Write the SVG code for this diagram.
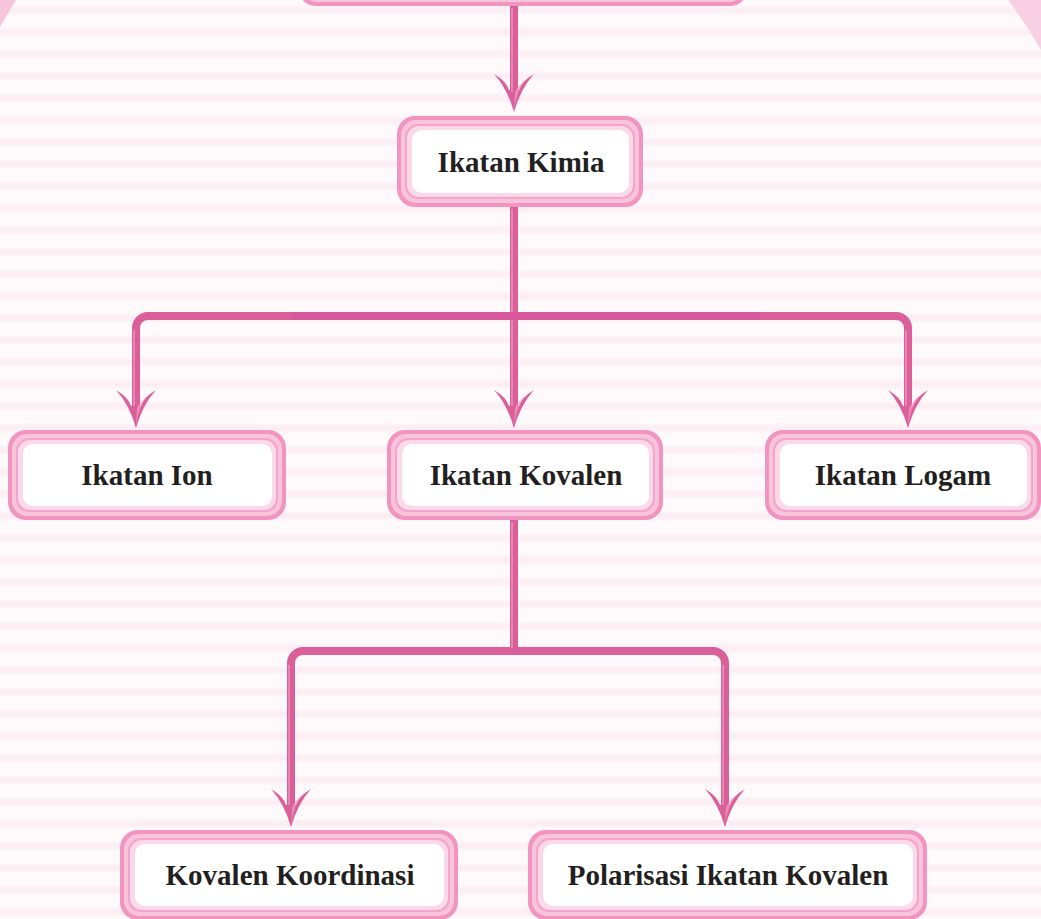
<svg xmlns="http://www.w3.org/2000/svg" width="1041" height="919" viewBox="0 0 1041 919">
<defs>
<linearGradient id="stripeGrad" x1="0" y1="0" x2="0" y2="1">
<stop offset="0" stop-color="#fefafc"/>
<stop offset="0.5" stop-color="#fbecf2"/>
<stop offset="1" stop-color="#fefafc"/>
</linearGradient>
<pattern id="stripes" x="0" y="0" width="1041" height="22" patternUnits="userSpaceOnUse">
<rect x="0" y="0" width="1041" height="22" fill="#fefafc"/>
<rect x="0" y="4" width="1041" height="12" fill="url(#stripeGrad)"/>
</pattern>
<marker id="ah" markerUnits="userSpaceOnUse" markerWidth="60" markerHeight="60" refX="0" refY="0" orient="auto" overflow="visible" viewBox="-30 -30 60 60">
<path d="M20,0 Q-4,-7 -18,-20 Q-11,-8 -2,-5 L-2,5 Q-11,8 -18,20 Q-4,7 20,0 Z" fill="#db5f99"/>
<path d="M18,0 Q-2,-3 -12,-11 Q-6,-4 0,-1 Z" fill="#ef9ec4" opacity="0.7"/>
</marker>
<style>
.bg1{fill:#f294c0}
.bg2{fill:#f8c4dc}
.bg3{fill:#f4a5ca}
.bg4{fill:#fcd9e8}
.bg5{fill:#ffffff}
.lbl{font-family:"Liberation Serif","Times New Roman",serif;font-weight:bold;font-size:29px;fill:#231f20;text-anchor:middle}
.con{fill:none;stroke:#db5f99;stroke-width:8;stroke-linejoin:round}
.hl{fill:none;stroke:#ef9ec4;stroke-width:2;opacity:0.6}
</style>
</defs>

<rect x="0" y="0" width="1041" height="919" fill="url(#stripes)"/>
<path d="M0,0 L16,0 L0,27 Z" fill="#f7c6dc"/>
<path d="M1008,0 L1041,0 L1041,50 Q1025,22 1008,0 Z" fill="#f9d0e3"/>

<g id="connectors">
<path class="con" d="M514,6 V92" marker-end="url(#ah)"/>
<path class="con" d="M514,207 V408" marker-end="url(#ah)"/>
<path class="con" d="M514,316 H148 A12,12 0 0 0 136,328 V408" marker-end="url(#ah)"/>
<path class="con" d="M514,316 H896 A12,12 0 0 1 908,328 V408" marker-end="url(#ah)"/>
<line x1="292" y1="316" x2="760" y2="316" stroke="#d7589a" stroke-width="8"/>
<path class="con" d="M514,520 V651"/>
<path class="con" d="M514,651 H303 A12,12 0 0 0 291,663 V807" marker-end="url(#ah)"/>
<path class="con" d="M514,651 H713 A12,12 0 0 1 725,663 V807" marker-end="url(#ah)"/>
<path class="hl" d="M512,8 V92 M512,209 V312 M512,320 V406 M134,330 V406 M906,330 V406 M512,522 V648 M289,665 V805 M723,665 V805"/>
</g>

<g id="node-top">
<rect class="bg1" x="298" y="-90" width="450" height="96" rx="18"/>
<rect class="bg2" x="302" y="-86" width="442" height="88" rx="15"/>
<rect class="bg3" x="306" y="-82" width="434" height="80" rx="13"/>
<rect class="bg5" x="312" y="-76" width="422" height="68" rx="10"/>
</g>

<g id="node-kimia">
<rect class="bg1" x="397" y="116" width="246" height="91" rx="18"/>
<rect class="bg2" x="401" y="120" width="238" height="83" rx="15"/>
<rect class="bg3" x="405" y="124" width="230" height="75" rx="13"/>
<rect class="bg4" x="407" y="126" width="226" height="71" rx="12"/>
<rect class="bg5" x="412" y="130" width="217" height="63" rx="10"/>
<text class="lbl" x="521" y="172">Ikatan Kimia</text>
</g>

<g id="node-ion">
<rect class="bg1" x="8" y="430" width="278" height="90" rx="18"/>
<rect class="bg2" x="12" y="434" width="270" height="82" rx="15"/>
<rect class="bg3" x="16" y="438" width="262" height="74" rx="13"/>
<rect class="bg4" x="18" y="440" width="258" height="70" rx="12"/>
<rect class="bg5" x="23" y="444" width="249" height="62" rx="10"/>
<text class="lbl" x="147" y="485">Ikatan Ion</text>
</g>

<g id="node-kovalen">
<rect class="bg1" x="387" y="430" width="276" height="90" rx="18"/>
<rect class="bg2" x="391" y="434" width="268" height="82" rx="15"/>
<rect class="bg3" x="395" y="438" width="260" height="74" rx="13"/>
<rect class="bg4" x="397" y="440" width="256" height="70" rx="12"/>
<rect class="bg5" x="402" y="444" width="247" height="62" rx="10"/>
<text class="lbl" x="526" y="485">Ikatan Kovalen</text>
</g>

<g id="node-logam">
<rect class="bg1" x="765" y="430" width="276" height="90" rx="18"/>
<rect class="bg2" x="769" y="434" width="268" height="82" rx="15"/>
<rect class="bg3" x="773" y="438" width="260" height="74" rx="13"/>
<rect class="bg4" x="775" y="440" width="256" height="70" rx="12"/>
<rect class="bg5" x="780" y="444" width="247" height="62" rx="10"/>
<text class="lbl" x="903" y="485">Ikatan Logam</text>
</g>

<g id="node-koordinasi">
<rect class="bg1" x="120" y="830" width="338" height="90" rx="18"/>
<rect class="bg2" x="124" y="834" width="330" height="82" rx="15"/>
<rect class="bg3" x="128" y="838" width="322" height="74" rx="13"/>
<rect class="bg4" x="130" y="840" width="318" height="70" rx="12"/>
<rect class="bg5" x="135" y="844" width="309" height="62" rx="10"/>
<text class="lbl" x="290" y="885">Kovalen Koordinasi</text>
</g>

<g id="node-polarisasi">
<rect class="bg1" x="528" y="830" width="399" height="90" rx="18"/>
<rect class="bg2" x="532" y="834" width="391" height="82" rx="15"/>
<rect class="bg3" x="536" y="838" width="383" height="74" rx="13"/>
<rect class="bg4" x="538" y="840" width="379" height="70" rx="12"/>
<rect class="bg5" x="543" y="844" width="370" height="62" rx="10"/>
<text class="lbl" x="728" y="885">Polarisasi Ikatan Kovalen</text>
</g>
</svg>
